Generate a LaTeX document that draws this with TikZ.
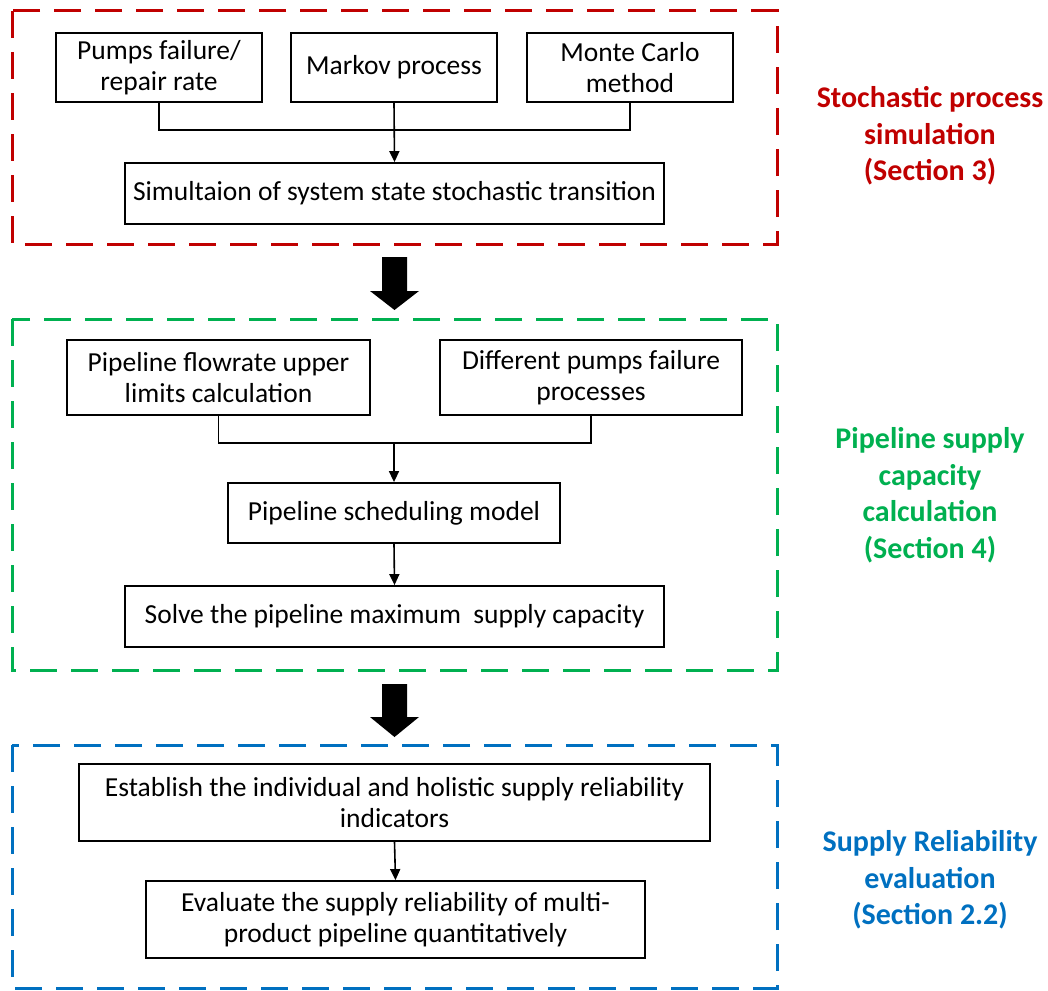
\documentclass[tikz,border=0pt]{standalone}
\usepackage{fontspec}
\setmainfont{Carlito}
\usetikzlibrary{arrows.meta,positioning}
\definecolor{simred}{HTML}{C00000}
\definecolor{capgreen}{HTML}{00B050}
\definecolor{relblue}{HTML}{0070C0}

\tikzset{
  stepbox/.style={draw, line width=1.8pt, align=center, inner sep=2pt,
    font=\fontsize{27.5}{31}\selectfont},
  frame/.style={line width=3pt, dash pattern=on 27pt off 14pt},
  tag/.style={align=center, font=\bfseries\fontsize{30}{36.5}\selectfont},
  link/.style={line width=1.6pt},
  flow/.style={line width=1.6pt, -{Triangle[width=10pt,length=11pt]}},
  bigarrow/.style={fill=black}
}

\begin{document}
\begin{tikzpicture}[x=1pt,y=-1pt]
  \useasboundingbox (0,0) rectangle (1048,990);

  % Stochastic process simulation
  \draw[frame, simred] (12,11) rectangle (777,244);
  \node[stepbox, minimum width=206pt, minimum height=69pt] (pumps) at (159,67.5) {Pumps failure/\\repair rate};
  \node[stepbox, minimum width=206pt, minimum height=69pt] (markov) at (394,67.5) {Markov process};
  \node[stepbox, minimum width=206pt, minimum height=69pt] (monte) at (630,67.5) {Monte Carlo\\method};
  \node[stepbox, minimum width=539pt, minimum height=61pt] (sim) at (394.5,193.5) {Simultaion of system state stochastic transition};
  \coordinate (j1) at (394,130);
  \draw[link] (pumps.south) |- (j1) -| (monte.south);
  \draw[flow] (markov.south) -- (sim.north);
  \node[tag, simred] (tag1) at (930,136) {Stochastic process\\simulation\\(Section 3)};

  % Arrow
  \fill[bigarrow] (382,257) -- (407,257) -- (407,291) -- (419,291) -- (394.5,310)
    -- (370,291) -- (382,291) -- cycle;

  % Pipeline supply capacity calculation
  \draw[frame, capgreen] (12,319) rectangle (777,670);
  \node[stepbox, minimum width=303pt, minimum height=75pt] (flowrate) at (218.5,377.5) {Pipeline flowrate upper\\limits calculation};
  \node[stepbox, minimum width=302pt, minimum height=75pt] (diff) at (591,377.5) {Different pumps failure\\processes};
  \node[stepbox, minimum width=332pt, minimum height=60pt] (sched) at (394,513) {Pipeline scheduling model};
  \node[stepbox, minimum width=539pt, minimum height=61pt] (solve) at (394.5,616.5) {Solve the pipeline maximum~ supply capacity};
  \coordinate (j2) at (394,443);
  \draw[link] (flowrate.south) |- (j2) -| (diff.south);
  \draw[flow] (j2) -- (sched.north);
  \draw[flow] (sched.south) -- (solve.north);
  \node[tag, capgreen] (tag2) at (930,495) {Pipeline supply\\capacity\\calculation\\(Section 4)};

  % Arrow
  \fill[bigarrow] (382,684) -- (407,684) -- (407,717) -- (419,717) -- (394.5,737)
    -- (370,717) -- (382,717) -- cycle;

  % Supply reliability evaluation
  \draw[frame, relblue] (12,745) rectangle (777,988);
  \node[stepbox, minimum width=631pt, minimum height=77pt] (estab) at (394.5,802.5) {Establish the individual and holistic supply reliability\\indicators};
  \node[stepbox, minimum width=499pt, minimum height=77pt] (eval) at (395.5,919.5) {Evaluate the supply reliability of multi-\\product pipeline quantitatively};
  \draw[flow] (estab.south) -- (eval.north);
  \node[tag, relblue] (tag3) at (930,880) {Supply Reliability\\evaluation\\(Section 2.2)};
\end{tikzpicture}
\end{document}
